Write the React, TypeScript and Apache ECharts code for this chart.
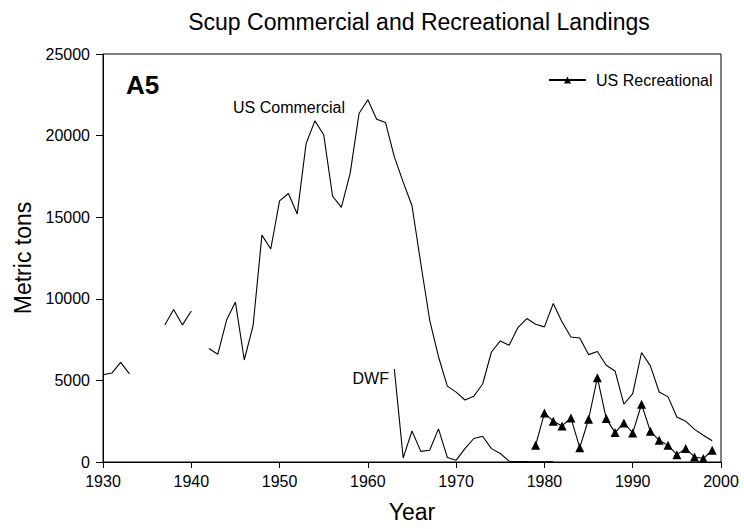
import React, { useEffect, useRef } from "react";
import * as echarts from "echarts";

const TITLE = "Scup Commercial and Recreational Landings";
const X_NAME = "Year";
const Y_NAME = "Metric tons";

const commercialStartYear = 1930;
const commercialValues: (number | null)[] = [
  5350, 5450, 6100, 5400, null, null, null, 8400, 9350, 8400,
  9250, null, 6950, 6600, 8700, 9800, 6250, 8350, 13900, 13050,
  16000, 16450, 15200, 19500, 20900, 20050, 16300, 15600, 17700, 21350,
  22200, 21000, 20800, 18700, 17150, 15700, 12150, 8700, 6450, 4650,
  4280, 3800, 4030, 4780, 6740, 7420, 7150, 8240, 8790, 8440,
  8280, 9710, 8580, 7660, 7600, 6580, 6770, 5930, 5580, 3540,
  4190, 6710, 5890, 4290, 3990, 2760, 2500, 2000, 1640, 1300,
];

const dwfStartYear = 1963;
const dwfValues: number[] = [
  5700, 250, 1900, 650, 720, 2030, 280, 110, 820, 1440,
  1580, 820, 520, 50, 30, 20, 15, 10, 5,
];

const recStartYear = 1979;
const recValues: number[] = [
  1020, 3000, 2500, 2210, 2700, 880, 2620, 5170, 2660, 1800,
  2390, 1780, 3540, 1880, 1330, 1020, 450, 820, 310, 210, 720,
];

const toPairs = (start: number, vals: (number | null)[]) =>
  vals.map((v, i) => [start + i, v === null ? "-" : v]);

const FONT = "'Liberation Sans', Arial, Helvetica, sans-serif";

export default function App() {
  const ref = useRef<HTMLDivElement>(null);
  useEffect(() => {
    if (!ref.current) return;
    const chart = echarts.init(ref.current, undefined, { renderer: "svg" });
    chart.setOption({
      animation: false,
      backgroundColor: "#ffffff",
      textStyle: { fontFamily: FONT, color: "#000" },
      title: {
        text: TITLE,
        left: 414,
        top: 5,
        textAlign: "center",
        textStyle: { fontFamily: FONT, fontSize: 23, fontWeight: "normal", color: "#000" },
      },
      legend: {
        data: ["US Recreational"],
        left: 548,
        top: 72,
        padding: 0,
        itemWidth: 37,
        itemHeight: 9,
        textStyle: { fontFamily: FONT, fontSize: 16, color: "#000", padding: [0, 0, 0, 5] },
      },
      grid: {
        left: 103,
        right: 23,
        top: 54,
        bottom: 67,
        show: true,
        borderColor: "#000",
        borderWidth: 1,
        backgroundColor: "transparent",
      },
      xAxis: {
        type: "value",
        min: 1930,
        max: 2000,
        interval: 10,
        name: X_NAME,
        nameLocation: "middle",
        nameGap: 38,
        nameTextStyle: { fontFamily: FONT, fontSize: 23, color: "#000" },
        axisLine: { show: true, lineStyle: { color: "#000", width: 1 } },
        axisTick: { show: true, inside: false, length: 6, lineStyle: { color: "#000" } },
        axisLabel: {
          fontFamily: FONT,
          fontSize: 16,
          color: "#000",
          margin: 11,
          formatter: (v: number) => String(v),
        },
        splitLine: { show: false },
      },
      yAxis: {
        type: "value",
        min: 0,
        max: 25000,
        interval: 5000,
        name: Y_NAME,
        nameLocation: "middle",
        nameRotate: 90,
        nameGap: 65,
        nameTextStyle: { fontFamily: FONT, fontSize: 23, color: "#000" },
        axisLine: { show: true, lineStyle: { color: "#000", width: 1 } },
        axisTick: { show: true, inside: false, length: 7, lineStyle: { color: "#000" } },
        axisLabel: {
          fontFamily: FONT,
          fontSize: 16,
          color: "#000",
          margin: 13,
          formatter: (v: number) => String(v),
        },
        splitLine: { show: false },
      },
      graphic: [
        {
          type: "text",
          left: 126,
          top: 72,
          style: { text: "A5", font: `bold 26px ${FONT}`, fill: "#000" },
        },
        {
          type: "text",
          x: 233,
          y: 107,
          style: { text: "US Commercial", font: `16px ${FONT}`, fill: "#000", textVerticalAlign: "middle" },
        },
        {
          type: "text",
          x: 389,
          y: 378,
          style: { text: "DWF", font: `16px ${FONT}`, fill: "#000", textAlign: "right", textVerticalAlign: "middle" },
        },
      ],
      series: [
        {
          name: "US Commercial",
          type: "line",
          data: toPairs(commercialStartYear, commercialValues),
          showSymbol: false,
          symbol: "none",
          connectNulls: false,
          lineStyle: { color: "#000", width: 1.1 },
          itemStyle: { color: "#000" },
        },
        {
          name: "DWF",
          type: "line",
          data: toPairs(dwfStartYear, dwfValues),
          showSymbol: false,
          symbol: "none",
          lineStyle: { color: "#000", width: 1.1 },
          itemStyle: { color: "#000" },
        },
        {
          name: "US Recreational",
          type: "line",
          data: toPairs(recStartYear, recValues),
          symbol: "triangle",
          symbolSize: 9,
          showSymbol: true,
          lineStyle: { color: "#000", width: 1.1 },
          itemStyle: { color: "#000" },
        },
      ],
    });
    return () => chart.dispose();
  }, []);
  return (
    <div
      ref={ref}
      style={{ position: "fixed", left: 0, top: 0, width: 744, height: 529, background: "#fff" }}
    />
  );
}
